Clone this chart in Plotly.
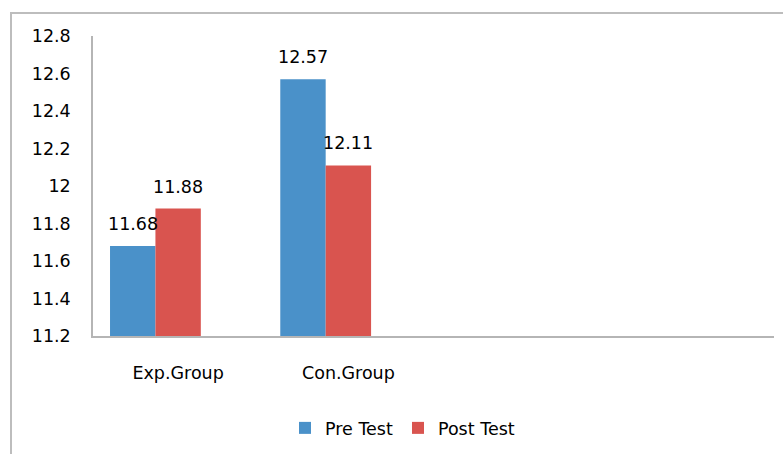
import plotly.graph_objects as go

# Mean scores per group, before and after the test
groups = ["Exp.Group", "Con.Group"]
pre_test = [11.68, 12.57]
post_test = [11.88, 12.11]
series_names = ["Pre Test", "Post Test"]
series_colors = ["#4A91C9", "#D9544F"]

y_ticks = [11.2, 11.4, 11.6, 11.8, 12, 12.2, 12.4, 12.6, 12.8]

FONT = "DejaVu Sans, Verdana, sans-serif"
FS = 17.5
W, H = 783, 454
M_L, M_R, M_T, M_B = 93, 9, 36, 117

# Each category slot holds three bar widths plus the gap between groups
GAP = 0.2
BAR_W = (1 - GAP) / 3
SLOTS = 4

fig = go.Figure()
for k, (name, vals, col) in enumerate(zip(series_names, [pre_test, post_test], series_colors)):
    off = -(1 - GAP) / 2 + k * BAR_W
    fig.add_trace(go.Bar(
        x=list(range(len(groups))), y=vals, name=name,
        marker=dict(color=col, line=dict(width=0)),
        width=BAR_W, offset=off,
    ))
    for i, v in enumerate(vals):
        fig.add_annotation(
            x=i + off + BAR_W / 2, y=v, text=f"{v:.2f}",
            showarrow=False, yanchor="middle", yshift=22,
            font=dict(family=FONT, size=FS, color="#000000"),
        )

pw = W - M_L - M_R
ph = H - M_T - M_B

fig.update_layout(
    width=W, height=H,
    margin=dict(l=M_L, r=M_R, t=M_T, b=M_B, pad=0),
    paper_bgcolor="white", plot_bgcolor="white",
    font=dict(family=FONT, size=FS, color="#000000"),
    showlegend=True,
    legend=dict(
        orientation="h", x=(285 - M_L) / pw, xanchor="left",
        y=(H - M_B - 428) / ph, yanchor="middle",
        font=dict(family=FONT, size=FS, color="#000000"),
        itemwidth=30, tracegroupgap=0, bgcolor="rgba(0,0,0,0)",
    ),
    xaxis=dict(
        range=[-0.5, SLOTS - 0.5],
        tickmode="array", tickvals=list(range(len(groups))), ticktext=groups,
        showline=True, linecolor="#B5B5B5", linewidth=1.5,
        showgrid=False, zeroline=False, ticks="",
        ticklabelstandoff=20, fixedrange=True,
    ),
    yaxis=dict(
        range=[y_ticks[0], y_ticks[-1]],
        tickmode="array", tickvals=y_ticks,
        ticktext=[f"{t:g}" for t in y_ticks],
        showline=True, linecolor="#B5B5B5", linewidth=1.5,
        showgrid=False, zeroline=False, ticks="",
        ticklabelstandoff=17,
    ),
)

# Outer chart frame
fig.add_shape(
    type="rect", xref="paper", yref="paper", layer="below",
    x0=(11 - M_L) / pw, x1=(W + 20 - M_L) / pw,
    y0=-(H + 20 - M_T - ph) / ph, y1=1 + (M_T - 13) / ph,
    line=dict(color="#BDBDBD", width=2), fillcolor="rgba(0,0,0,0)",
)

fig.write_html("out.html")
